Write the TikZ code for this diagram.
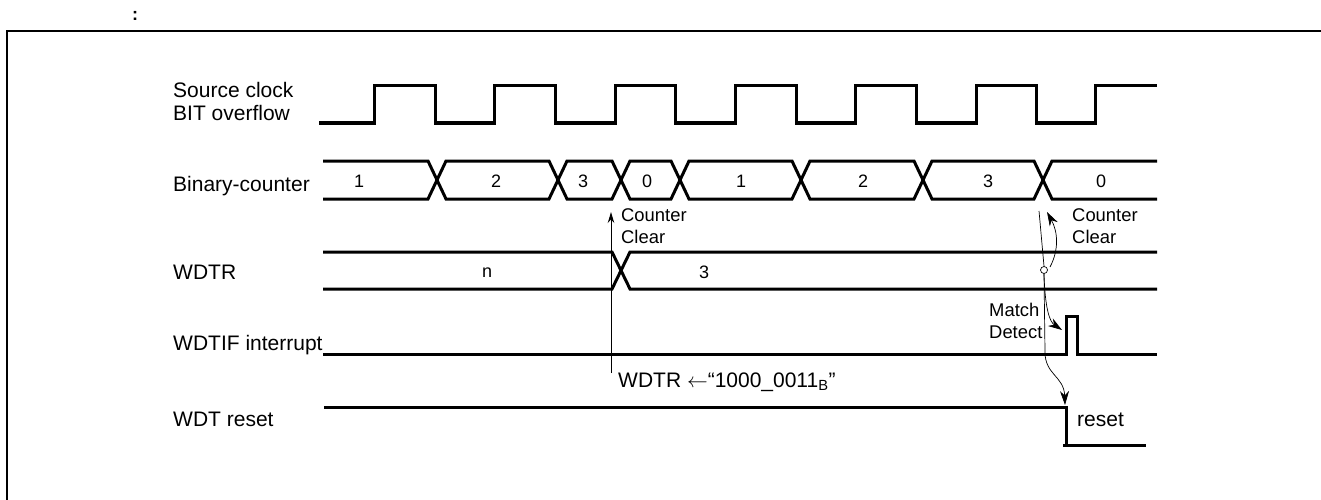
\documentclass[tikz,border=0pt]{standalone}
\usepackage{fontspec}
\setmainfont{Liberation Sans}
\usetikzlibrary{arrows.meta, positioning}
\tikzstyle{signal} = [line width=3pt, line cap=butt, line join=miter]
\tikzstyle{frameline} = [line width=2pt]
\tikzstyle{thinline} = [line width=0.7pt]
\tikzstyle{arrow} = [line width=1pt,-{Stealth[length=11pt,width=6.5pt]}]
\tikzstyle{curvearrow} = [line width=0.7pt,-{Stealth[length=14pt,width=9pt]}]
\tikzstyle{signame} = [anchor=base west, inner sep=0pt, font=\fontsize{21}{21}\selectfont]
\tikzstyle{sigval} = [inner sep=0pt, font=\fontsize{18}{18}\selectfont]
\tikzstyle{notetext} = [inner sep=0pt, align=left, anchor=north west, font=\fontsize{18.4}{22}\selectfont]

\begin{document}
\begin{tikzpicture}[x=1pt, y=-1pt]
    \useasboundingbox (0,0) rectangle (1321,500);

    \node (colon) [inner sep=0pt, font=\fontsize{18}{18}\selectfont\bfseries] at (135,16) {:};
    \draw [frameline] (7,500) -- (7,31) -- (1321,31);

    % signal names
    \node (src) [signame] at (173,98)  {Source clock};
    \node (bit) [signame] at (173,121) {BIT overflow};
    \node (bin) [signame] at (173,191) {Binary-counter};
    \node (wdr) [signame] at (173,279) {WDTR};
    \node (wif) [signame] at (173,350) {WDTIF interrupt};
    \node (wrs) [signame] at (173,426) {WDT reset};

    % clock
    \draw [signal] (319,123) -- (374,123) -- (374,86) -- (435,86) -- (435,123)
        -- (494,123) -- (494,86) -- (555,86) -- (555,123)
        -- (615,123) -- (615,86) -- (675,86) -- (675,123)
        -- (735,123) -- (735,86) -- (796,86) -- (796,123)
        -- (855,123) -- (855,86) -- (916,86) -- (916,123)
        -- (976,123) -- (976,86) -- (1036,86) -- (1036,123)
        -- (1095,123) -- (1095,86) -- (1157,86);

    % binary counter
    \draw [signal] (323,161) -- (428,161) -- (446,199) -- (549,199) -- (567,161)
        -- (612,161) -- (630,199) -- (671,199) -- (689,161)
        -- (792,161) -- (810,199) -- (914,199) -- (932,161)
        -- (1034,161) -- (1052,199) -- (1157,199);
    \draw [signal] (323,199) -- (428,199) -- (446,161) -- (549,161) -- (567,199)
        -- (612,199) -- (630,161) -- (671,161) -- (689,199)
        -- (792,199) -- (810,161) -- (914,161) -- (932,199)
        -- (1034,199) -- (1052,161) -- (1157,161);
    \node (b1) [sigval] at (359,181)  {1};
    \node (b2) [sigval] at (496,181)  {2};
    \node (b3) [sigval] at (583,181)  {3};
    \node (b4) [sigval] at (647,181)  {0};
    \node (b5) [sigval] at (741,181)  {1};
    \node (b6) [sigval] at (863,181)  {2};
    \node (b7) [sigval] at (988,181)  {3};
    \node (b8) [sigval] at (1101,181) {0};

    % WDTR
    \draw [signal] (323,252) -- (612,252) -- (630,289) -- (1157,289);
    \draw [signal] (323,289) -- (612,289) -- (630,252) -- (1157,252);
    \node (rn) [sigval] at (487,273) {n};
    \node (r3) [sigval] at (704,272) {3};

    % WDTIF interrupt
    \draw [signal] (323,354) -- (1066,354) -- (1066,316) -- (1077,316) -- (1077,354) -- (1157,354);

    % WDT reset
    \draw [signal] (324,407) -- (1066,407) -- (1066,445);
    \draw [signal] (1063,445) -- (1146,445);
    \node (rst) [signame] at (1077,426) {reset};

    % notes
    \node (clr1) [notetext] at (621,208)  {Counter\\Clear};
    \node (clr2) [notetext] at (1072,208) {Counter\\Clear};
    \node (mat)  [notetext] at (989,303)  {Match\\Detect};
    \node (load) [signame] at (618,387)  {WDTR $\leftarrow$“1000\_0011\textsubscript{B}”};

    % arrows
    \node (cmp) [circle, draw, thinline, inner sep=0pt, minimum size=7pt] at (1044,270) {};
    \coordinate (wr)   at (611,373);
    \coordinate (clrb) at (611,212);
    \coordinate (far)  at (1039,211);
    \coordinate (clrc) at (1047,212);
    \coordinate (itr)  at (1062,330);
    \coordinate (res)  at (1065,405);

    \draw [arrow] (wr) -- (clrb);
    \draw [thinline] (far) -- (cmp.north);
    \draw [curvearrow] (1050,267) .. controls (1059,250) and (1058,232) .. (clrc);
    \draw [curvearrow] (cmp.south) .. controls (1045,310) and (1050,322) .. (itr);
    \draw [curvearrow] (cmp.south) -- (1045,352) .. controls (1045,375) and (1064,376) .. (res);
\end{tikzpicture}
\end{document}
